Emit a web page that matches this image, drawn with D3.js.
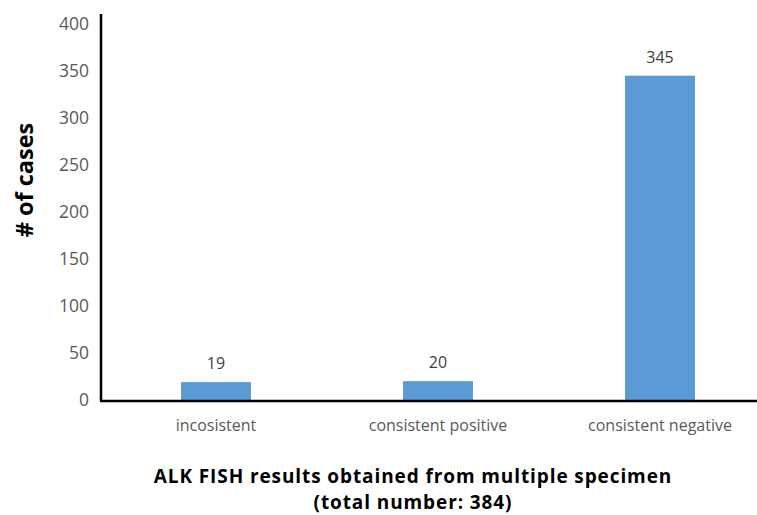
<!DOCTYPE html>
<html>
<head>
<meta charset="utf-8">
<script src="https://cdn.jsdelivr.net/npm/d3@7"></script>
<style>
  body { margin: 0; background: #fff; }
  text { font-family: "Open Sans", sans-serif; }
</style>
</head>
<body>
<svg id="chart" width="757" height="515"></svg>
<script>
// Data
const categories = ["incosistent", "consistent positive", "consistent negative"];
const cases = [19, 20, 345];
const yTicks = [0, 50, 100, 150, 200, 250, 300, 350, 400];
const titleLines = ["ALK FISH results obtained from multiple specimen", "(total number: 384)"];

const svg = d3.select("#chart");

const x = d3.scaleBand()
    .domain(categories)
    .range([105, 771])
    .paddingInner(0.685)
    .paddingOuter(0.3425);

const y = d3.scaleLinear()
    .domain([0, 400])
    .range([400, 24]);

// y tick labels
svg.append("g")
    .selectAll("text")
    .data(yTicks)
    .enter().append("text")
    .attr("x", 89)
    .attr("y", d => y(d))
    .attr("dy", "0.35em")
    .attr("text-anchor", "end")
    .attr("font-size", 17.5)
    .attr("fill", "#595959")
    .text(d => d);

// bars
svg.append("g")
    .selectAll("rect")
    .data(cases)
    .enter().append("rect")
    .attr("x", (d, i) => x(categories[i]))
    .attr("y", d => y(d))
    .attr("width", x.bandwidth())
    .attr("height", d => y(0) - y(d))
    .attr("fill", "#5B9BD5");

// value labels
svg.append("g")
    .selectAll("text")
    .data(cases)
    .enter().append("text")
    .attr("x", (d, i) => x(categories[i]) + x.bandwidth() / 2)
    .attr("y", d => y(d) - 13)
    .attr("text-anchor", "middle")
    .attr("font-size", 16)
    .attr("fill", "#404040")
    .text(d => d);

// axes lines
svg.append("line")
    .attr("x1", 101).attr("x2", 101)
    .attr("y1", 14).attr("y2", 401)
    .attr("stroke", "#000").attr("stroke-width", 2.5);

svg.append("line")
    .attr("x1", 100).attr("x2", 757)
    .attr("y1", 401).attr("y2", 401)
    .attr("stroke", "#000").attr("stroke-width", 2.5);

// category labels
svg.append("g")
    .selectAll("text")
    .data(categories)
    .enter().append("text")
    .attr("x", d => x(d) + x.bandwidth() / 2)
    .attr("y", 431)
    .attr("text-anchor", "middle")
    .attr("font-size", 16)
    .attr("fill", "#595959")
    .text(d => d);

// axis titles
svg.append("text")
    .attr("transform", "translate(33,180) rotate(-90)")
    .attr("text-anchor", "middle")
    .attr("font-size", 23.5)
    .attr("font-weight", "bold")
    .attr("fill", "#000")
    .text("# of cases");

svg.append("g")
    .selectAll("text")
    .data(titleLines)
    .enter().append("text")
    .attr("x", 413)
    .attr("y", (d, i) => 483 + i * 26)
    .attr("text-anchor", "middle")
    .attr("font-size", 19)
    .attr("letter-spacing", 0.9)
    .attr("font-weight", "bold")
    .attr("fill", "#000")
    .text(d => d);
</script>
</body>
</html>
